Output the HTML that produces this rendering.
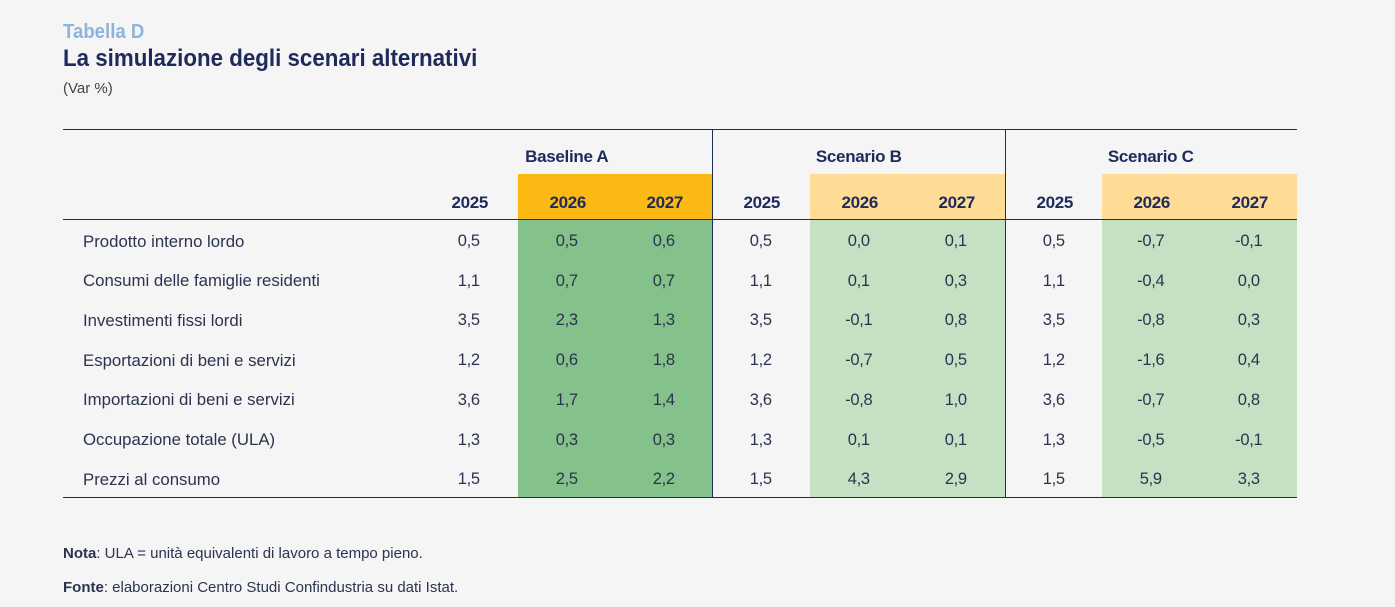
<!DOCTYPE html>
<html><head><meta charset="utf-8"><style>
body{margin:0;width:1395px;height:607px;background:#f5f5f5;font-family:"Liberation Sans",sans-serif;color:#1f2a5c;position:relative;overflow:hidden}
.a{position:absolute;white-space:nowrap}
.sx{transform-origin:0 50%;transform:scaleX(0.88)}
.c{position:absolute;text-align:center;width:97.5px;font-size:16.5px;letter-spacing:-0.3px}
.h{font-weight:bold;font-size:17px}
.lab{position:absolute;left:83px;font-size:17px;transform-origin:0 50%;transform:scaleX(0.987);white-space:nowrap;color:#2b3350}
.bg{position:absolute}
.line{position:absolute;background:#1f2a5c}
</style></head><body>
<div class="a sx" style="left:63px;top:21px;font-size:20px;color:#8db4dc;font-weight:bold;transform:scaleX(0.93)">Tabella D</div>
<div class="a sx" style="left:63px;top:45px;font-size:24px;font-weight:bold;color:#1f2a5c;transform:scaleX(0.93)">La simulazione degli scenari alternativi</div>
<div class="a" style="left:63px;top:80px;font-size:15px;color:#444">(Var %)</div>

<div class="bg" style="left:518px;top:174px;width:195px;height:45px;background:#fdb913"></div>
<div class="bg" style="left:810px;top:174px;width:195px;height:45px;background:#fedc95"></div>
<div class="bg" style="left:1102px;top:174px;width:195px;height:45px;background:#fedc95"></div>
<div class="bg" style="left:518px;top:219px;width:195px;height:278px;background:#84c18b"></div>
<div class="bg" style="left:810px;top:219px;width:195px;height:278px;background:#c6e0c4"></div>
<div class="bg" style="left:1102px;top:219px;width:195px;height:278px;background:#c6e0c4"></div>

<div class="line" style="left:63px;top:129px;width:1234px;height:1px"></div>
<div class="line" style="left:63px;top:219px;width:1234px;height:1px"></div>
<div class="line" style="left:63px;top:497px;width:1234px;height:1px"></div>
<div class="line" style="left:712px;top:129px;width:1px;height:368px"></div>
<div class="line" style="left:1005px;top:129px;width:1px;height:368px"></div>

<div class="c h" style="left:518px;top:147px">Baseline A</div>
<div class="c h" style="left:810px;top:147px">Scenario B</div>
<div class="c h" style="left:1102px;top:147px">Scenario C</div>
<div id="t"></div>
<script>
var cols=[420,518,615,712,810,907,1005,1102,1200];
var yrs=["2025","2026","2027"];
var h="";
for(var i=0;i<9;i++)h+='<div class="c h" style="left:'+(cols[i]+1)+'px;top:193px">'+yrs[i%3]+'</div>';
var rows=[["Prodotto interno lordo","0,5","0,5","0,6","0,5","0,0","0,1","0,5","-0,7","-0,1"],
["Consumi delle famiglie residenti","1,1","0,7","0,7","1,1","0,1","0,3","1,1","-0,4","0,0"],
["Investimenti fissi lordi","3,5","2,3","1,3","3,5","-0,1","0,8","3,5","-0,8","0,3"],
["Esportazioni di beni e servizi","1,2","0,6","1,8","1,2","-0,7","0,5","1,2","-1,6","0,4"],
["Importazioni di beni e servizi","3,6","1,7","1,4","3,6","-0,8","1,0","3,6","-0,7","0,8"],
["Occupazione totale (ULA)","1,3","0,3","0,3","1,3","0,1","0,1","1,3","-0,5","-0,1"],
["Prezzi al consumo","1,5","2,5","2,2","1,5","4,3","2,9","1,5","5,9","3,3"]];
for(var r=0;r<7;r++){var y=232+r*39.7;
h+='<div class="lab" style="top:'+(y-0.5)+'px">'+rows[r][0]+'</div>';
for(var i=0;i<9;i++)h+='<div class="c" style="left:'+cols[i]+'px;top:'+y+'px;color:#2b3350">'+rows[r][i+1]+'</div>';}
document.getElementById("t").innerHTML=h;
</script>
<div class="a" style="left:63px;top:545px;font-size:15px;color:#2b3350"><b>Nota</b>: ULA = unità equivalenti di lavoro a tempo pieno.</div>
<div class="a" style="left:63px;top:579px;font-size:15px;color:#2b3350"><b>Fonte</b>: elaborazioni Centro Studi Confindustria su dati Istat.</div>
</body></html>
